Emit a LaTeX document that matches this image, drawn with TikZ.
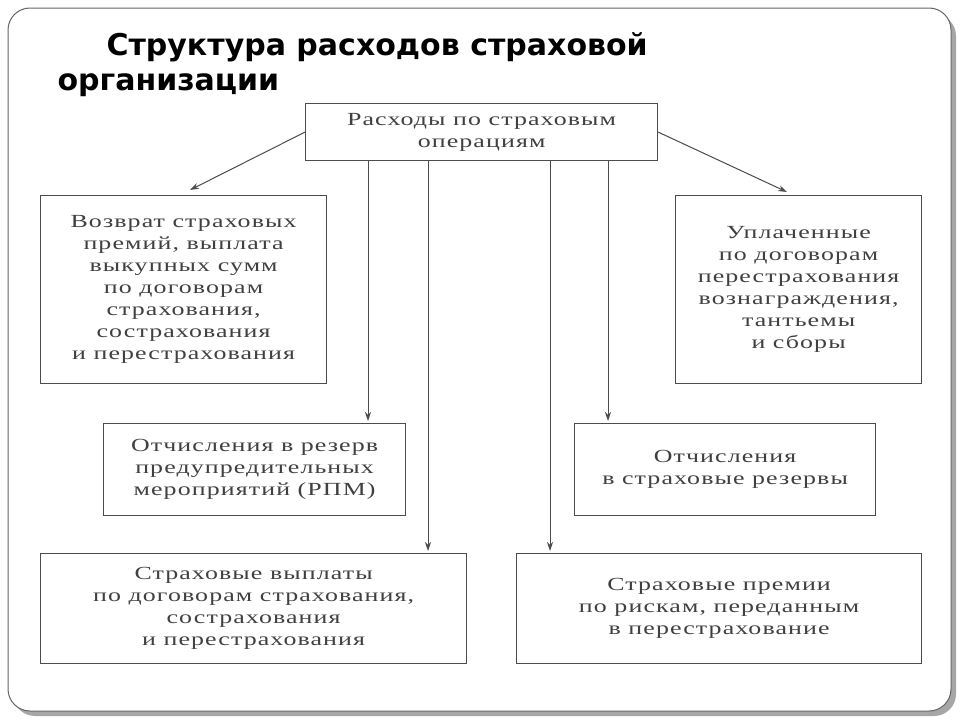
\documentclass[tikz,border=0pt]{standalone}
\usepackage{fontspec}
\setmainfont[FakeStretch=1.4,LetterSpace=6]{Liberation Serif}
\newfontfamily\titlefont{DejaVu Sans}
\usetikzlibrary{arrows.meta}
\begin{document}
\begin{tikzpicture}[x=1pt,y=-1pt,
  box/.style={draw=black!70,line width=1.2pt,align=center,text=black!75,font=\fontsize{18.5}{22}\selectfont,inner sep=0pt,anchor=north west},
  arr/.style={draw=black!70,line width=1pt,-{Stealth[length=9pt,width=6pt]}}]
\useasboundingbox (0,0) rectangle (960,720);
\fill[white] (0,0) rectangle (960,720);
\fill[black!35,rounded corners=22pt] (13,14) rectangle (956,716);
\draw[black!60,fill=white,line width=1pt,rounded corners=22pt] (8,8) rectangle (951,711);
\node[anchor=west,font=\titlefont\bfseries\fontsize{30}{36}\selectfont] (t1) at (103,47) {Структура расходов страховой};
\node[anchor=west,font=\titlefont\bfseries\fontsize{30}{36}\selectfont] (t2) at (54,85) {организации};
\node[box,minimum width=352pt,minimum height=57pt] (top) at (305,103) {Расходы по страховым\\операциям};
\node[box,minimum width=286pt,minimum height=188pt] (l1) at (40,195) {Возврат страховых\\премий, выплата\\выкупных сумм\\по договорам\\страхования,\\сострахования\\и перестрахования};
\node[box,minimum width=246pt,minimum height=188pt] (r1) at (675,195) {Уплаченные\\по договорам\\перестрахования\\вознаграждения,\\тантьемы\\и сборы};
\node[box,minimum width=302pt,minimum height=92pt] (l2) at (103,423) {Отчисления в резерв\\предупредительных\\мероприятий (РПМ)};
\node[box,minimum width=301pt,minimum height=92pt] (r2) at (574,423) {Отчисления\\в страховые резервы};
\node[box,minimum width=426pt,minimum height=110pt] (l3) at (40,553) {Страховые выплаты\\по договорам страхования,\\сострахования\\и перестрахования};
\node[box,minimum width=405pt,minimum height=110pt] (r3) at (516,553) {Страховые премии\\по рискам, переданным\\в перестрахование};
\draw[arr] (top.west) -- (190,190);
\draw[arr] (top.east) -- (787,192);
\draw[arr] (368,160) -- (368,421);
\draw[arr] (428,160) -- (428,551);
\draw[arr] (550,160) -- (550,551);
\draw[arr] (608,160) -- (608,421);
\end{tikzpicture}
\end{document}
